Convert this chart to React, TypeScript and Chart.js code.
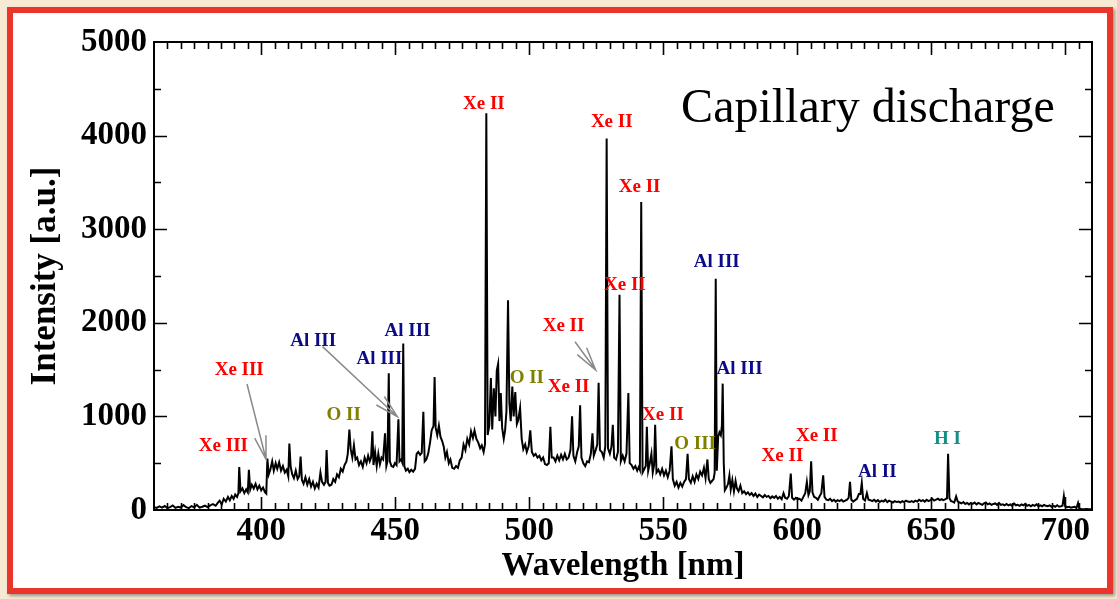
import React, { useEffect, useRef } from "react";
import { Chart, registerables } from "chart.js";

Chart.register(...registerables);

// ---------- data ----------
const xTickValues = [400, 450, 500, 550, 600, 650, 700];
const yTickValues = [0, 1000, 2000, 3000, 4000, 5000];
const xRange = [360, 710];
const yRange = [0, 5000];

// [wavelength nm, intensity a.u.]
const spectrum: [number, number][] = [
  [360, 30], [361, 22], [362, 38], [363, 25], [364, 42], [365, 20], [366, 30], [367, 48], [368, 22], [369, 35],
  [370, 26], [371, 52], [372, 30], [373, 20], [374, 42], [375, 28], [376, 55], [377, 25], [378, 35], [379, 46],
  [380, 30], [381, 50], [382, 62], [383, 45], [384, 85], [384.5, 100], [385.3, 60], [386, 120], [386.8, 90],
  [387.6, 140], [388.3, 105], [389, 150], [389.7, 120], [390.3, 165], [391, 140], [391.5, 180], [391.8, 460],
  [392.3, 200], [393, 230], [393.7, 180], [394.4, 220], [395, 190], [395.4, 430], [395.9, 220], [396.5, 270],
  [397.2, 230], [397.9, 280], [398.6, 220], [399.3, 260], [400, 210], [400.7, 240], [401.4, 190], [401.9, 175],
  [402.3, 550], [402.8, 380], [403.4, 430], [404.1, 520], [404.7, 420], [405.4, 500], [406, 440], [406.7, 510],
  [407.4, 420], [408.1, 470], [408.8, 400], [409.5, 430], [410.1, 360], [410.5, 710], [411, 460], [411.6, 380],
  [412.2, 340], [412.9, 420], [413.6, 330], [414.2, 360], [414.7, 570], [415.2, 320], [415.8, 280], [416.5, 350],
  [417.2, 270], [417.9, 330], [418.6, 250], [419.3, 300], [420, 230], [420.7, 280], [421.4, 240], [422.1, 400],
  [422.7, 300], [423.4, 270], [424, 300], [424.4, 640], [424.9, 290], [425.5, 260], [426.2, 270], [426.9, 330],
  [427.6, 300], [428.3, 380], [429, 350], [429.7, 440], [430.4, 410], [431.1, 480], [431.8, 520], [432.3, 600],
  [432.9, 860], [433.4, 650], [434, 560], [434.6, 690], [435.2, 540], [435.8, 560], [436.5, 480], [437.2, 520],
  [437.9, 460], [438.6, 560], [439.3, 500], [439.9, 580], [440.5, 520], [441, 560], [441.5, 840], [441.9, 480],
  [442.5, 620], [443.1, 470], [443.7, 600], [444.3, 490], [444.9, 560], [445.5, 540], [446.2, 820], [446.7, 470],
  [447.1, 520], [447.6, 1460], [448, 520], [448.6, 470], [449.3, 460], [449.9, 500], [450.5, 480], [451.2, 970],
  [451.6, 520], [452.2, 540], [452.6, 510], [453, 1780], [453.4, 470], [454, 420], [454.7, 440], [455.3, 405],
  [456, 430], [456.7, 410], [457.4, 440], [458, 600], [458.6, 620], [459.3, 590], [459.9, 610], [460.5, 1050],
  [461, 520], [461.6, 540], [462.3, 600], [463, 720], [463.6, 850], [464.3, 900], [464.7, 1420], [465.1, 880],
  [465.7, 800], [466.3, 900], [466.9, 780], [467.5, 740], [468.1, 680], [468.7, 560], [469.3, 620], [470, 500],
  [470.6, 540], [471.3, 450], [472, 440], [472.7, 470], [473.4, 450], [474.1, 530], [474.8, 560], [475.5, 700],
  [476.2, 640], [476.9, 760], [477.6, 700], [478.3, 840], [479, 770], [479.6, 850], [480.3, 760], [481, 720],
  [481.7, 660], [482.3, 690], [483, 620], [483.5, 700], [484, 4240], [484.5, 800], [485.1, 900], [485.7, 1410],
  [486.2, 860], [486.8, 1300], [487.4, 1000], [487.9, 1490], [488.4, 1560], [488.9, 950], [489.4, 1250],
  [489.9, 880], [490.5, 760], [491, 850], [491.5, 1050], [492.1, 2240], [492.6, 1150], [493.1, 950], [493.7, 1320],
  [494.2, 1000], [494.8, 1260], [495.4, 920], [495.9, 960], [496.6, 1090], [497.2, 760], [497.8, 650], [498.5, 700],
  [499.1, 620], [499.8, 680], [500.4, 850], [501, 620], [501.7, 580], [502.4, 600], [503.1, 560], [503.8, 580],
  [504.5, 530], [505.2, 560], [505.9, 490], [506.6, 480], [507.3, 500], [507.9, 890], [508.4, 560], [509.1, 560],
  [509.8, 520], [510.5, 580], [511.2, 530], [511.9, 590], [512.6, 540], [513.3, 600], [514, 540], [514.7, 560],
  [515.4, 640], [516, 1000], [516.5, 580], [517.2, 520], [517.9, 620], [518.5, 680], [519, 1120], [519.5, 560],
  [520.2, 500], [520.9, 470], [521.6, 520], [522.3, 510], [523, 600], [523.6, 820], [524.1, 580], [524.8, 640],
  [525.4, 700], [525.9, 1360], [526.4, 640], [527.1, 620], [527.8, 560], [528.4, 680], [528.9, 3970], [529.4, 660],
  [530.1, 600], [530.7, 680], [531.2, 910], [531.7, 560], [532.4, 540], [533.1, 620], [533.7, 2300], [534.2, 520],
  [534.9, 580], [535.6, 520], [536.3, 600], [537, 1250], [537.5, 500], [538.2, 480], [538.9, 440], [539.6, 470],
  [540.3, 420], [540.9, 460], [541.3, 430], [541.8, 3290], [542.3, 400], [543, 440], [543.5, 470], [543.9, 890],
  [544.4, 420], [545, 500], [545.6, 600], [546.1, 400], [546.6, 480], [547, 910], [547.5, 400], [548.2, 430],
  [548.9, 380], [549.6, 440], [550.3, 370], [551, 420], [551.7, 350], [552.4, 420], [553.1, 680], [553.6, 330],
  [554.3, 260], [555, 300], [555.7, 240], [556.4, 290], [557.1, 250], [557.8, 300], [558.5, 330], [559.1, 600],
  [559.6, 330], [560.3, 290], [561, 360], [561.7, 300], [562.4, 380], [563.1, 330], [563.8, 410], [564.5, 370],
  [565.2, 450], [565.8, 340], [566.5, 540], [567, 330], [567.6, 290], [568.2, 310], [568.8, 330], [569.2, 400],
  [569.6, 2470], [570, 420], [570.5, 780], [571, 830], [571.5, 800], [571.9, 900], [572.2, 1350], [572.6, 500],
  [573, 210], [573.6, 240], [574.2, 280], [574.7, 370], [575.2, 220], [575.8, 320], [576.4, 200], [577, 310],
  [577.5, 230], [578.1, 200], [578.8, 260], [579.5, 180], [580.2, 200], [580.9, 170], [581.6, 190], [582.3, 160],
  [583, 180], [583.7, 150], [584.4, 175], [585.1, 140], [585.8, 165], [586.5, 150], [587.2, 135], [587.9, 160],
  [588.6, 140], [589.3, 150], [590, 125], [590.7, 145], [591.4, 130], [592.1, 150], [592.8, 120], [593.5, 140],
  [594.2, 115], [594.9, 180], [595.5, 130], [596.2, 120], [596.9, 150], [597.6, 390], [598.1, 130], [598.8, 110],
  [599.5, 130], [600.2, 115], [600.9, 120], [601.6, 100], [602.3, 140], [603, 180], [603.6, 300], [604.2, 160],
  [604.7, 200], [605.2, 520], [605.7, 190], [606.3, 140], [607, 130], [607.7, 110], [608.4, 150], [609, 180],
  [609.7, 370], [610.2, 140], [610.9, 110], [611.6, 105], [612.3, 120], [613, 95], [613.7, 110], [614.4, 90],
  [615.1, 105], [615.8, 95], [616.5, 110], [617.2, 90], [617.9, 100], [618.6, 110], [619.2, 130], [619.7, 300],
  [620.2, 110], [620.9, 90], [621.6, 105], [622.3, 120], [623, 170], [623.6, 170], [624.1, 290], [624.6, 120],
  [625.3, 100], [626, 180], [626.6, 110], [627.3, 105], [628, 95], [628.7, 110], [629.4, 90], [630.1, 105],
  [630.8, 85], [631.5, 100], [632.2, 90], [632.9, 110], [633.6, 85], [634.3, 100], [635, 90], [635.7, 80],
  [636.4, 95], [637.1, 85], [637.8, 90], [638.5, 80], [639.2, 95], [639.9, 85], [640.6, 100], [641.3, 90],
  [642, 85], [642.7, 95], [643.4, 85], [644.1, 100], [644.8, 90], [645.5, 110], [646.2, 95], [646.9, 105],
  [647.6, 90], [648.3, 110], [649, 95], [649.7, 105], [650.4, 120], [651.1, 100], [651.8, 110], [652.5, 120],
  [653.2, 105], [653.9, 115], [654.6, 105], [655.3, 115], [655.9, 125], [656.3, 600], [656.8, 125], [657.4, 95],
  [658, 90], [658.6, 80], [659.3, 145], [659.9, 90], [660.6, 80], [661.3, 70], [662, 85], [662.7, 65], [663.4, 75],
  [664.1, 60], [664.8, 75], [665.5, 65], [666.2, 80], [666.9, 60], [667.6, 75], [668.3, 65], [669, 55], [669.7, 70],
  [670.4, 80], [671.1, 60], [671.8, 70], [672.5, 55], [673.2, 65], [673.9, 70], [674.6, 55], [675.3, 75], [676, 55],
  [676.7, 60], [677.4, 50], [678.1, 65], [678.8, 50], [679.5, 60], [680.2, 45], [680.9, 70], [681.6, 50], [682.3, 55],
  [683, 45], [683.7, 60], [684.4, 50], [685.1, 65], [685.8, 45], [686.5, 55], [687.2, 40], [687.9, 55], [688.6, 45],
  [689.3, 60], [690, 40], [690.7, 50], [691.4, 40], [692.1, 55], [692.8, 45], [693.5, 40], [694.2, 50], [694.9, 35],
  [695.6, 45], [696.3, 35], [697, 50], [697.7, 35], [698.4, 40], [699, 45], [699.5, 150], [700, 40], [700.7, 30],
  [701.4, 35], [702.1, 25], [702.8, 30], [703.5, 35], [704.2, 20], [704.8, 75], [705.3, 15], [706, 10], [707, 8],
  [708, 10], [709, 8], [710, 8],
];

// line annotations: [text, wavelength, intensity, colour]
const lineLabels: [string, number, number, string][] = [
  ["Xe II", 483.1, 4338, "#ff0000"],
  ["Xe II", 530.8, 4149, "#ff0000"],
  ["Xe II", 541.2, 3446, "#ff0000"],
  ["Xe II", 535.7, 2400, "#ff0000"],
  ["Xe II", 512.8, 1963, "#ff0000"],
  ["Xe II", 514.7, 1314, "#ff0000"],
  ["Xe II", 549.9, 1010, "#ff0000"],
  ["Xe II", 594.5, 577, "#ff0000"],
  ["Xe II", 607.3, 793, "#ff0000"],
  ["Al III", 570.0, 2644, "#0b0b88"],
  ["Al III", 578.5, 1504, "#0b0b88"],
  ["Al III", 419.4, 1802, "#0b0b88"],
  ["Al III", 444.1, 1611, "#0b0b88"],
  ["Al III", 454.6, 1909, "#0b0b88"],
  ["Al II", 629.9, 401, "#0b0b88"],
  ["O II", 430.8, 1015, "#808000"],
  ["O II", 499.1, 1407, "#808000"],
  ["O III", 561.9, 705, "#808000"],
  ["H I", 656.1, 759, "#138f88"],
  ["Xe III", 391.8, 1493, "#ff0000"],
  ["Xe III", 385.9, 686, "#ff0000"],
];

// arrows: [tail wavelength, tail intensity, tip wavelength, tip intensity]
const arrows: [number, number, number, number][] = [
  [394.7, 1346, 401.8, 542],
  [422.9, 1745, 450.8, 997],
  [517.1, 1798, 524.8, 1496],
];

const titleText = "Capillary discharge";
const titlePos: [number, number] = [626.4, 4150];

const xAxisTitle = "Wavelength [nm]";
const yAxisTitle = "Intensity [a.u.]";

const SERIF = "'Liberation Serif', 'Times New Roman', serif";

const decorPlugin = {
  id: "decor",
  afterDatasetsDraw(chart: any) {
    const { ctx, chartArea: a, scales } = chart;
    const x = scales.x;
    const y = scales.y;
    ctx.save();
    ctx.strokeStyle = "#000";
    ctx.lineWidth = 2;
    ctx.lineCap = "butt";
    ctx.strokeRect(a.left, a.top, a.right - a.left, a.bottom - a.top);

    ctx.lineWidth = 1.6;
    ctx.beginPath();
    for (let v = xRange[0] + 5; v < xRange[1]; v += 5) {
      const px = Math.round(x.getPixelForValue(v)) + 0.5;
      const len = v % 50 === 0 ? 13 : 7;
      ctx.moveTo(px, a.bottom);
      ctx.lineTo(px, a.bottom - len);
      ctx.moveTo(px, a.top);
      ctx.lineTo(px, a.top + len);
    }
    for (let v = yRange[0] + 500; v < yRange[1]; v += 500) {
      const py = Math.round(y.getPixelForValue(v)) + 0.5;
      const len = v % 1000 === 0 ? 13 : 7;
      ctx.moveTo(a.left, py);
      ctx.lineTo(a.left + len, py);
      ctx.moveTo(a.right, py);
      ctx.lineTo(a.right - len, py);
    }
    ctx.stroke();

    // arrows
    ctx.strokeStyle = "#8a8a8a";
    ctx.lineWidth = 1.5;
    for (const [tw, ti, hw, hi] of arrows) {
      const x0 = x.getPixelForValue(tw);
      const y0 = y.getPixelForValue(ti);
      const x1 = x.getPixelForValue(hw);
      const y1 = y.getPixelForValue(hi);
      const ang = Math.atan2(y1 - y0, x1 - x0);
      const L = 24;
      const da = (14 * Math.PI) / 180;
      ctx.beginPath();
      ctx.moveTo(x0, y0);
      ctx.lineTo(x1, y1);
      ctx.moveTo(x1 - L * Math.cos(ang - da), y1 - L * Math.sin(ang - da));
      ctx.lineTo(x1, y1);
      ctx.lineTo(x1 - L * Math.cos(ang + da), y1 - L * Math.sin(ang + da));
      ctx.stroke();
    }

    // labels
    ctx.font = `bold 19px ${SERIF}`;
    ctx.textAlign = "center";
    ctx.textBaseline = "middle";
    for (const [t, wl, val, col] of lineLabels) {
      ctx.fillStyle = col;
      ctx.fillText(t, x.getPixelForValue(wl), y.getPixelForValue(val));
    }

    ctx.font = `48px ${SERIF}`;
    ctx.fillStyle = "#000";
    ctx.textBaseline = "alphabetic";
    ctx.fillText(titleText, x.getPixelForValue(titlePos[0]), y.getPixelForValue(titlePos[1]));
    ctx.restore();
  },
};

export default function App() {
  const canvasRef = useRef<HTMLCanvasElement | null>(null);

  useEffect(() => {
    const canvas = canvasRef.current;
    if (!canvas) return;
    const chart = new Chart(canvas, {
      type: "line",
      data: {
        datasets: [
          {
            data: spectrum.map(([wl, v]) => ({ x: wl, y: v })),
            borderColor: "#000",
            borderWidth: 2,
            pointRadius: 0,
            tension: 0,
            fill: false,
          },
        ],
      },
      options: {
        animation: false,
        responsive: false,
        maintainAspectRatio: false,
        devicePixelRatio: 1,
        layout: { padding: { left: 0, top: 42, right: 25, bottom: 0 } },
        plugins: { legend: { display: false }, tooltip: { enabled: false } },
        scales: {
          x: {
            type: "linear",
            min: xRange[0],
            max: xRange[1],
            afterBuildTicks: (s: any) => {
              s.ticks = xTickValues.map((v) => ({ value: v }));
            },
            afterFit: (s: any) => {
              s.height = 89;
            },
            grid: { display: false, drawTicks: false },
            border: { display: false },
            ticks: {
              padding: 2,
              autoSkip: false,
              maxRotation: 0,
              color: "#000",
              callback: (v: any) => String(v),
              font: { family: SERIF, weight: "bold", size: 33, lineHeight: 1.2 },
            },
            title: {
              display: true,
              text: xAxisTitle,
              color: "#000",
              font: { family: SERIF, weight: "bold", size: 33, lineHeight: 1.2 },
              padding: { top: 0, bottom: 13 },
            },
          },
          y: {
            type: "linear",
            min: yRange[0],
            max: yRange[1],
            afterBuildTicks: (s: any) => {
              s.ticks = yTickValues.map((v) => ({ value: v }));
            },
            afterFit: (s: any) => {
              s.width = 154;
            },
            grid: { display: false, drawTicks: false },
            border: { display: false },
            ticks: {
              padding: 7,
              color: "#000",
              callback: (v: any) => String(v),
              font: { family: SERIF, weight: "bold", size: 33, lineHeight: 1.2 },
            },
            title: {
              display: true,
              text: yAxisTitle,
              color: "#000",
              font: { family: SERIF, weight: "bold", size: 35, lineHeight: 1.2 },
              padding: { top: 25, bottom: 0 },
            },
          },
        },
      },
      plugins: [decorPlugin],
    });
    return () => chart.destroy();
  }, []);

  return (
    <div
      style={{
        position: "fixed",
        left: 0,
        top: 0,
        width: 1117,
        height: 599,
        background: "#f7e9d3",
        overflow: "hidden",
      }}
    >
      <div
        style={{
          position: "absolute",
          left: 7,
          top: 7,
          width: 1106,
          height: 587,
          boxSizing: "border-box",
          border: "6px solid #e9352b",
          background: "#ffffff",
          boxShadow: "2px 2px 3px rgba(0,0,0,0.35)",
        }}
      />
      <canvas
        ref={canvasRef}
        width={1117}
        height={599}
        style={{ position: "absolute", left: 0, top: 0, width: 1117, height: 599, display: "block" }}
      />
    </div>
  );
}
